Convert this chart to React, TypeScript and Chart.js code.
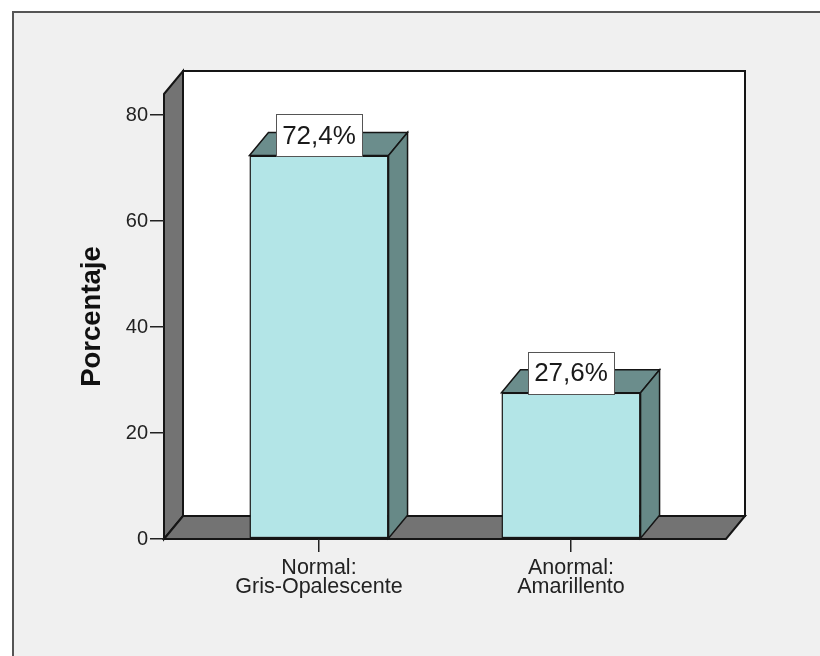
import React, { useEffect, useRef } from 'react';
import { Chart, registerables } from 'chart.js';

Chart.register(...registerables);

// ---- data ----
const categoryLabels: string[][] = [
  ['Normal:', 'Gris-Opalescente'],
  ['Anormal:', 'Amarillento'],
];
const percentages: number[] = [72.4, 27.6];
const yTickValues: number[] = [0, 20, 40, 60, 80];
const yAxisMax = 84;
const yAxisTitle = 'Porcentaje';

// ---- style ----
const FONT = '"Liberation Sans", Arial, Helvetica, sans-serif';
const DX = 19;
const DY = 23;
const FRONT = '#b3e5e7';
const TOP = '#6b8d8c';
const SIDE = '#678987';
const WALL = '#737373';
const LINE = '#151515';

const fmt = (v: number) => v.toFixed(1).replace('.', ',') + '%';

const scene3d = {
  id: 'scene3d',
  beforeDraw(chart: any) {
    const { ctx, chartArea: a, width, height } = chart;
    ctx.save();
    ctx.fillStyle = '#ffffff';
    ctx.fillRect(0, 0, width, height);
    ctx.fillStyle = '#f0f0f0';
    ctx.fillRect(13, 12, width, height);
    ctx.strokeStyle = '#555555';
    ctx.lineWidth = 2;
    ctx.beginPath();
    ctx.moveTo(13, height);
    ctx.lineTo(13, 12);
    ctx.lineTo(width, 12);
    ctx.stroke();

    ctx.lineJoin = 'miter';
    ctx.strokeStyle = LINE;
    ctx.lineWidth = 2;
    // back wall
    ctx.fillStyle = '#ffffff';
    ctx.fillRect(a.left + DX, a.top - DY, a.right - a.left, a.bottom - a.top);
    ctx.strokeRect(a.left + DX, a.top - DY, a.right - a.left, a.bottom - a.top);
    // left wall
    ctx.fillStyle = WALL;
    ctx.beginPath();
    ctx.moveTo(a.left, a.top);
    ctx.lineTo(a.left + DX, a.top - DY);
    ctx.lineTo(a.left + DX, a.bottom - DY);
    ctx.lineTo(a.left, a.bottom);
    ctx.closePath();
    ctx.fill();
    ctx.stroke();
    // floor
    ctx.beginPath();
    ctx.moveTo(a.left, a.bottom);
    ctx.lineTo(a.left + DX, a.bottom - DY);
    ctx.lineTo(a.right + DX, a.bottom - DY);
    ctx.lineTo(a.right, a.bottom);
    ctx.closePath();
    ctx.fill();
    ctx.stroke();
    ctx.restore();
  },
  afterDatasetsDraw(chart: any) {
    const { ctx } = chart;
    const meta = chart.getDatasetMeta(0);
    ctx.save();
    ctx.strokeStyle = LINE;
    ctx.lineWidth = 1.5;
    ctx.lineJoin = 'miter';
    meta.data.forEach((bar: any) => {
      const { x, y, base, width } = bar.getProps(['x', 'y', 'base', 'width'], true);
      const l = x - width / 2;
      const r = x + width / 2;
      // top face
      ctx.fillStyle = TOP;
      ctx.beginPath();
      ctx.moveTo(l, y);
      ctx.lineTo(l + DX, y - DY);
      ctx.lineTo(r + DX, y - DY);
      ctx.lineTo(r, y);
      ctx.closePath();
      ctx.fill();
      ctx.stroke();
      // side face
      ctx.fillStyle = SIDE;
      ctx.beginPath();
      ctx.moveTo(r, y);
      ctx.lineTo(r + DX, y - DY);
      ctx.lineTo(r + DX, base - DY);
      ctx.lineTo(r, base);
      ctx.closePath();
      ctx.fill();
      ctx.stroke();
    });
    // value labels
    ctx.font = `26px ${FONT}`;
    ctx.textAlign = 'center';
    ctx.textBaseline = 'middle';
    meta.data.forEach((bar: any, i: number) => {
      const { x, y } = bar.getProps(['x', 'y'], true);
      const txt = fmt(percentages[i]);
      const tw = ctx.measureText(txt).width;
      const bw = Math.round(tw + 12);
      const bh = 42;
      const bx = Math.round(x - bw / 2) + 0.5;
      const by = Math.round(y - bh) + 1.5;
      ctx.fillStyle = '#ffffff';
      ctx.fillRect(bx, by, bw, bh);
      ctx.strokeStyle = '#555555';
      ctx.lineWidth = 1;
      ctx.strokeRect(bx, by, bw, bh);
      ctx.fillStyle = '#1a1a1a';
      ctx.fillText(txt, x, y - bh / 2 + 2);
    });
    ctx.restore();
  },
};

export default function App() {
  const ref = useRef<HTMLCanvasElement | null>(null);

  useEffect(() => {
    if (!ref.current) return;
    const chart = new Chart(ref.current, {
      type: 'bar',
      data: {
        datasets: [
          {
            data: percentages.map((v, i) => ({ x: i, y: v })),
            backgroundColor: FRONT,
            borderColor: LINE,
            borderWidth: 1.5,
            borderSkipped: false,
            categoryPercentage: 1,
            barPercentage: 0.552,
          },
        ],
      },
      options: {
        animation: false,
        responsive: false,
        devicePixelRatio: 1,
        layout: { padding: { left: 60, top: 94, right: 94, bottom: 0 } },
        plugins: {
          legend: { display: false },
          tooltip: { enabled: false },
        },
        scales: {
          x: {
            type: 'linear',
            offset: false,
            min: -0.615,
            max: categoryLabels.length - 1 + 0.615,
            afterBuildTicks: (scale: any) => {
              scale.ticks = categoryLabels.map((_, i) => ({ value: i }));
            },
            afterFit: (scale: any) => {
              scale.height = 117;
            },
            border: { display: false },
            grid: {
              display: true,
              offset: false,
              drawOnChartArea: false,
              drawTicks: true,
              tickLength: 13,
              color: '#222222',
              lineWidth: 1.5,
            },
            ticks: {
              autoSkip: false,
              maxRotation: 0,
              padding: 7,
              color: '#222222',
              font: { family: FONT, size: 21.5, lineHeight: 0.885 },
              callback: (_v: any, index: number) => categoryLabels[index],
            },
          },
          y: {
            min: 0,
            max: yAxisMax,
            afterBuildTicks: (scale: any) => {
              scale.ticks = yTickValues.map((v) => ({ value: v }));
            },
            afterFit: (scale: any) => {
              scale.width = 104;
            },
            border: { display: false },
            grid: {
              display: true,
              drawOnChartArea: false,
              drawTicks: true,
              tickLength: 14,
              color: '#222222',
              lineWidth: 1.5,
            },
            ticks: {
              padding: 2,
              color: '#222222',
              font: { family: FONT, size: 20 },
            },
            title: {
              display: true,
              text: yAxisTitle,
              color: '#111111',
              padding: { top: 16, bottom: 0 },
              font: { family: FONT, size: 27.5, weight: 'bold' },
            },
          },
        },
      },
      plugins: [scene3d],
    } as any);
    return () => chart.destroy();
  }, []);

  return (
    <canvas
      ref={ref}
      width={820}
      height={656}
      style={{ position: 'absolute', left: 0, top: 0, width: 820, height: 656 }}
    />
  );
}
